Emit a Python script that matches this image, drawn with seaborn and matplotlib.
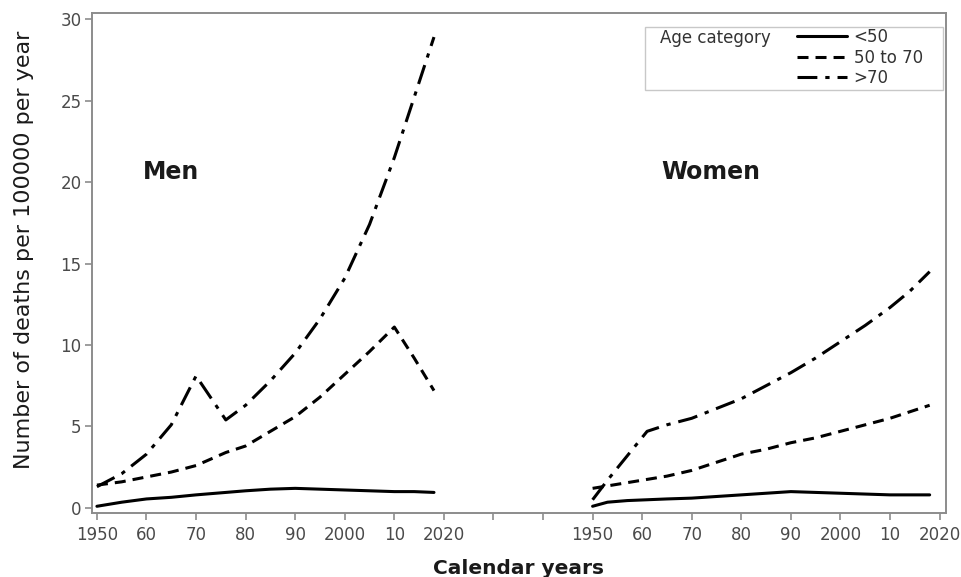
"""Death rates per 100000 by calendar year, men and women side by side."""

import matplotlib

matplotlib.use("Agg")

import matplotlib.pyplot as plt
import numpy as np
import pandas as pd
import seaborn as sns
from matplotlib.patches import Rectangle

# values
MEN_YEARS = [1950, 1955, 1960, 1965, 1970, 1976, 1980, 1985, 1990, 1995, 2000, 2005, 2010, 2014, 2018]
MEN_UNDER_50 = [0.1, 0.35, 0.55, 0.65, 0.8, 0.95, 1.05, 1.15, 1.2, 1.15, 1.1, 1.05, 1.0, 1.0, 0.95]
MEN_50_TO_70 = [1.4, 1.6, 1.9, 2.2, 2.6, 3.4, 3.8, 4.7, 5.6, 6.8, 8.2, 9.6, 11.1, 9.2, 7.2]
MEN_OVER_70 = [1.3, 2.1, 3.3, 5.1, 8.1, 5.4, 6.3, 7.8, 9.5, 11.6, 14.1, 17.4, 21.5, 25.2, 28.9]

WOMEN_YEARS = [1950, 1953, 1957, 1961, 1965, 1970, 1975, 1980, 1985, 1990, 1995, 2000, 2005, 2010, 2014, 2018]
WOMEN_UNDER_50 = [0.1, 0.35, 0.45, 0.5, 0.55, 0.6, 0.7, 0.8, 0.9, 1.0, 0.95, 0.9, 0.85, 0.8, 0.8, 0.8]
WOMEN_50_TO_70 = [1.2, 1.35, 1.55, 1.75, 1.95, 2.3, 2.8, 3.3, 3.6, 4.0, 4.3, 4.7, 5.1, 5.5, 5.9, 6.3]
WOMEN_OVER_70 = [0.5, 1.7, 3.2, 4.7, 5.1, 5.5, 6.1, 6.7, 7.5, 8.3, 9.2, 10.2, 11.2, 12.3, 13.3, 14.5]

AGE_GROUPS = ["<50", "50 to 70", ">70"]
DECADE_LABELS = ["1950", "60", "70", "80", "90", "2000", "10", "2020"]
WOMEN_SHIFT = 100  # women panel sits 100 years to the right on the shared x axis


def build_frame() -> pd.DataFrame:
    rows = []
    men = dict(zip(AGE_GROUPS, [MEN_UNDER_50, MEN_50_TO_70, MEN_OVER_70]))
    women = dict(zip(AGE_GROUPS, [WOMEN_UNDER_50, WOMEN_50_TO_70, WOMEN_OVER_70]))
    for age in AGE_GROUPS:
        for yr, v in zip(MEN_YEARS, men[age]):
            rows.append({"sex": "Men", "age": age, "x": yr, "rate": v})
        for yr, v in zip(WOMEN_YEARS, women[age]):
            rows.append({"sex": "Women", "age": age, "x": yr + WOMEN_SHIFT, "rate": v})
    return pd.DataFrame(rows)


def main() -> None:
    sns.set_theme(style="ticks")
    plt.rcParams["font.family"] = ["DejaVu Sans"]

    df = build_frame()
    fig = plt.figure(figsize=(9.61, 5.77), dpi=100)
    ax = fig.add_axes([0.0957, 0.111, 0.8887, 0.866])

    dashes = {"<50": "", "50 to 70": (3.6, 2.3), ">70": (6.5, 2.6, 1.4, 2.6)}
    sns.lineplot(
        data=df, x="x", y="rate", style="age", style_order=AGE_GROUPS,
        units="sex", estimator=None, dashes=dashes, color="black",
        linewidth=2.2, ax=ax, legend="auto",
    )
    handles, labels = ax.get_legend_handles_labels()
    ax.get_legend().remove()

    ax.set_xlim(1949, 2121.3)
    ax.set_ylim(-0.31, 30.36)
    ticks = np.arange(1950, 2121, 10)
    ax.set_xticks(ticks)
    ax.set_xticklabels(DECADE_LABELS + ["", ""] + DECADE_LABELS)
    ax.set_yticks(np.arange(0, 31, 5))

    grey = "#8c8c8c"
    for side in ["left", "right", "top", "bottom"]:
        ax.spines[side].set_visible(True)
        ax.spines[side].set_color(grey)
        ax.spines[side].set_linewidth(1.4)
    ax.tick_params(axis="both", direction="out", length=5, width=1.2, color=grey,
                   labelsize=12, labelcolor="#4a4a4a")
    ax.tick_params(axis="x", pad=4.5)
    ax.tick_params(axis="y", pad=2.5)

    ax.set_xlabel("Calendar years", fontsize=14.5, fontweight="bold", color="#1a1a1a", labelpad=11)
    ax.set_ylabel("Number of deaths per 100000 per year", fontsize=16, color="#1a1a1a")
    ax.yaxis.set_label_coords(-0.068, 0.526)

    ax.text(1964.9, 20.6, "Men", fontsize=17, fontweight="bold", color="#1a1a1a", ha="center", va="center")
    ax.text(2073.9, 20.6, "Women", fontsize=17, fontweight="bold", color="#1a1a1a", ha="center", va="center")

    # legend box with the title on the left, as in the source figure
    ax.add_patch(Rectangle((0.6475, 0.846), 0.349, 0.126, transform=ax.transAxes,
                           fill=False, edgecolor="#c8c8c8", linewidth=1.0, zorder=5))
    ax.text(0.665, 0.95, "Age category", transform=ax.transAxes, fontsize=12,
            color="#333333", ha="left", va="center")
    ax.legend(handles, labels, loc="upper left", bbox_to_anchor=(0.8255, 0.97),
              frameon=False, borderpad=0, borderaxespad=0, fontsize=12,
              handlelength=3.0, handletextpad=0.4, labelspacing=0.15, labelcolor="#333333")

    fig.savefig("out.png", dpi=100)
    plt.close(fig)


if __name__ == "__main__":
    main()
